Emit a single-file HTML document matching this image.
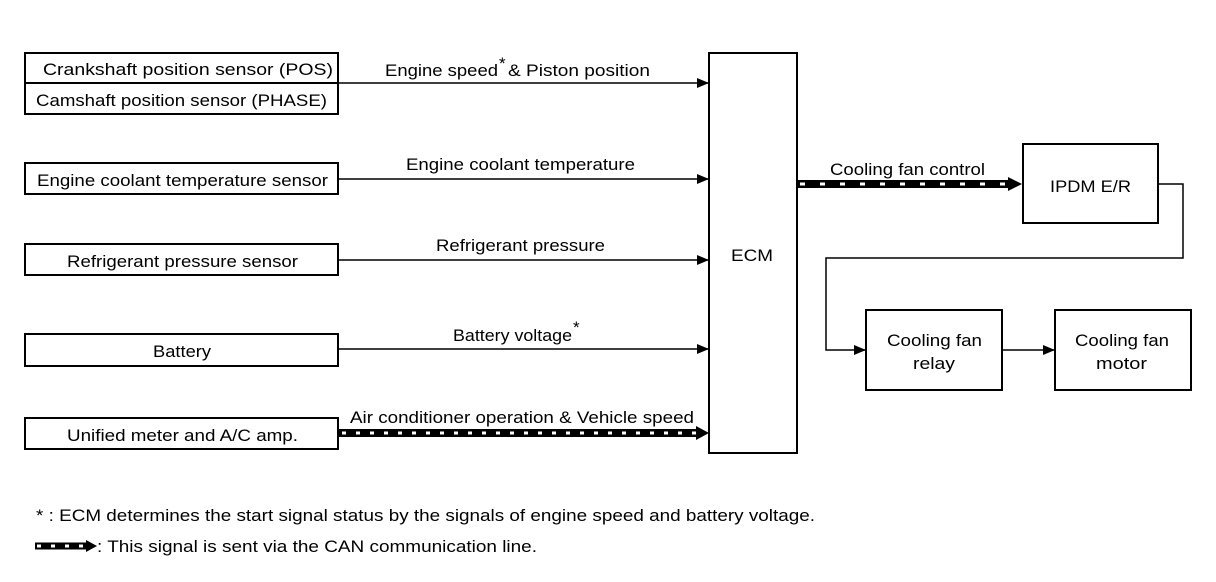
<!DOCTYPE html>
<html><head><style>body{margin:0;background:#fff}svg{display:block}text{font-family:"Liberation Sans",Arial,sans-serif;font-size:17px;fill:#000}</style></head>
<body>
<svg width="1216" height="582" viewBox="0 0 1216 582" xmlns="http://www.w3.org/2000/svg">
<defs><marker id="a" markerWidth="12" markerHeight="10" refX="11" refY="5" orient="auto" markerUnits="userSpaceOnUse"><path d="M0,0 L12,5 L0,10 z" fill="#000"/></marker></defs>
<g fill="none" stroke="#000" stroke-width="2">
<rect x="25" y="53" width="313" height="61"/><line x1="25" y1="83" x2="338" y2="83"/>
<rect x="25" y="163" width="313" height="31"/>
<rect x="25" y="244" width="313" height="31"/>
<rect x="25" y="334" width="313" height="32"/>
<rect x="25" y="418" width="313" height="31"/>
<rect x="709" y="53" width="88" height="400"/>
<rect x="1023" y="144" width="135" height="79"/>
<rect x="866" y="310" width="136" height="80"/>
<rect x="1055" y="310" width="136" height="80"/>
</g>
<g stroke="#000" stroke-width="1.5" fill="none">
<line x1="338" y1="83" x2="708" y2="83" marker-end="url(#a)"/>
<line x1="338" y1="179" x2="708" y2="179" marker-end="url(#a)"/>
<line x1="338" y1="260" x2="708" y2="260" marker-end="url(#a)"/>
<line x1="338" y1="349" x2="708" y2="349" marker-end="url(#a)"/>
<polyline points="1158,184 1183,184 1183,258 826,258 826,350 865,350" marker-end="url(#a)"/>
<line x1="1002" y1="350" x2="1054" y2="350" marker-end="url(#a)"/>
</g>
<g>
<line x1="338" y1="433" x2="698" y2="433" stroke="#000" stroke-width="8"/>
<line x1="342" y1="433" x2="698" y2="433" stroke="#fff" stroke-width="3" stroke-dasharray="4 10"/>
<path d="M696,426 L709,433 L696,440 z" fill="#000"/>
<line x1="797" y1="184" x2="1010" y2="184" stroke="#000" stroke-width="8"/>
<line x1="800" y1="184" x2="1010" y2="184" stroke="#fff" stroke-width="3" stroke-dasharray="5 15"/>
<path d="M1008,177 L1022,184 L1008,191 z" fill="#000"/>
<line x1="35" y1="546" x2="87" y2="546" stroke="#000" stroke-width="7"/>
<line x1="37" y1="546" x2="87" y2="546" stroke="#fff" stroke-width="3" stroke-dasharray="4 10"/>
<path d="M86,540 L97,546 L86,552 z" fill="#000"/>
</g>
<g lengthAdjust="spacingAndGlyphs">
<text x="43" y="75" textLength="290" lengthAdjust="spacingAndGlyphs">Crankshaft position sensor (POS)</text>
<text x="36" y="106" textLength="291" lengthAdjust="spacingAndGlyphs">Camshaft position sensor (PHASE)</text>
<text x="37" y="186" textLength="291" lengthAdjust="spacingAndGlyphs">Engine coolant temperature sensor</text>
<text x="67" y="267" textLength="231" lengthAdjust="spacingAndGlyphs">Refrigerant pressure sensor</text>
<text x="153" y="357" textLength="58" lengthAdjust="spacingAndGlyphs">Battery</text>
<text x="67" y="441" textLength="231" lengthAdjust="spacingAndGlyphs">Unified meter and A/C amp.</text>
<text x="385" y="76" textLength="113" lengthAdjust="spacingAndGlyphs">Engine speed</text>
<text x="499" y="69" font-size="9">*</text>
<text x="508" y="76" textLength="142" lengthAdjust="spacingAndGlyphs">&amp; Piston position</text>
<text x="406" y="170" textLength="229" lengthAdjust="spacingAndGlyphs">Engine coolant temperature</text>
<text x="436" y="251" textLength="169" lengthAdjust="spacingAndGlyphs">Refrigerant pressure</text>
<text x="453" y="341" textLength="119" lengthAdjust="spacingAndGlyphs">Battery voltage</text>
<text x="573" y="333" font-size="9">*</text>
<text x="350" y="423" textLength="344" lengthAdjust="spacingAndGlyphs">Air conditioner operation &amp; Vehicle speed</text>
<text x="731" y="261" textLength="42" lengthAdjust="spacingAndGlyphs">ECM</text>
<text x="830" y="175" textLength="155" lengthAdjust="spacingAndGlyphs">Cooling fan control</text>
<text x="1050" y="192" textLength="81" lengthAdjust="spacingAndGlyphs">IPDM E/R</text>
<text x="887" y="346" textLength="95" lengthAdjust="spacingAndGlyphs">Cooling fan</text>
<text x="913" y="369" textLength="42" lengthAdjust="spacingAndGlyphs">relay</text>
<text x="1075" y="346" textLength="94" lengthAdjust="spacingAndGlyphs">Cooling fan</text>
<text x="1096" y="369" textLength="51" lengthAdjust="spacingAndGlyphs">motor</text>
<text x="36" y="521" textLength="779" lengthAdjust="spacingAndGlyphs">* : ECM determines the start signal status by the signals of engine speed and battery voltage.</text>
<text x="97" y="552" textLength="440" lengthAdjust="spacingAndGlyphs">: This signal is sent via the CAN communication line.</text>
</g>
</svg>
</body></html>
